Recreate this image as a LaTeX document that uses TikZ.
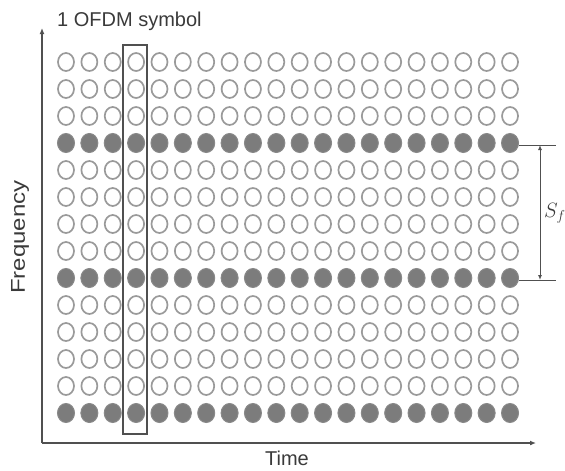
\documentclass[tikz,border=0pt]{standalone}
\usepackage{fontspec}
\setmainfont{Liberation Sans}
\usetikzlibrary{shapes.geometric,arrows.meta}
\definecolor{opengray}{HTML}{9A9A9A}
\definecolor{fillgray}{HTML}{7C7C7C}
\definecolor{linegray}{HTML}{505050}
\definecolor{txtgray}{HTML}{3A3A3A}
\tikzset{
  x=1pt,y=-1pt,
  opendot/.style={shape=ellipse,draw=opengray,line width=1.7pt,inner sep=0pt,minimum width=16pt,minimum height=18pt},
  filldot/.style={shape=ellipse,draw=fillgray!90,fill=fillgray,line width=1pt,inner sep=0pt,minimum width=17pt,minimum height=19pt},
  axisline/.style={draw=linegray,line width=1.2pt,-{Latex[length=6pt,width=5pt]}},
  dimline/.style={draw=linegray,line width=1pt},
  lbl/.style={text=txtgray,inner sep=0pt,font=\fontsize{20}{24}\selectfont},
}
\begin{document}
\begin{tikzpicture}
\useasboundingbox (0,0) rectangle (565,471);
% grid of sub-carriers
\foreach \r in {0,...,13}{
  \foreach \c in {0,...,19}{
    \pgfmathsetmacro{\px}{66+23.37*\c}
    \pgfmathsetmacro{\py}{62+27*\r}
    \ifnum\r=3 \node[filldot] (c-\r-\c) at (\px,\py) {};
    \else\ifnum\r=8 \node[filldot] (c-\r-\c) at (\px,\py) {};
    \else\ifnum\r=13 \node[filldot] (c-\r-\c) at (\px,\py) {};
    \else \node[opendot] (c-\r-\c) at (\px,\py) {};
    \fi\fi\fi
  }
}
% one OFDM symbol box
\node[draw=linegray,line width=1.1pt,minimum width=24pt,minimum height=389pt,inner sep=0pt] (sym) at (135,239.5) {};
% axes
\coordinate (o) at (42,443);
\coordinate (ytip) at (42,28);
\coordinate (xtip) at (536,443);
\draw[axisline] (o) -- (ytip);
\draw[axisline] (o) -- (xtip);
% spacing bracket
\coordinate (bt1) at (519,145);
\coordinate (bt2) at (556,145);
\coordinate (bb1) at (519,280);
\coordinate (bb2) at (556,280);
\coordinate (at) at (540,145);
\coordinate (ab) at (540,280);
\draw[dimline] (bt1) -- (bt2);
\draw[dimline] (bb1) -- (bb2);
\draw[dimline,{Latex[length=5pt,width=4pt]}-{Latex[length=5pt,width=4pt]}] (at) -- (ab);
% labels
\node[lbl,anchor=west] (title) at (57,21) {1 OFDM symbol};
\node[lbl] (time) at (287,458) {Time};
\node[lbl,rotate=90,xscale=1.2] (freq) at (20,237) {Frequency};
\node[text=txtgray,inner sep=0pt,anchor=west,font=\fontsize{21}{25}\selectfont] (sf) at (544,213) {$S_f$};
\end{tikzpicture}
\end{document}
